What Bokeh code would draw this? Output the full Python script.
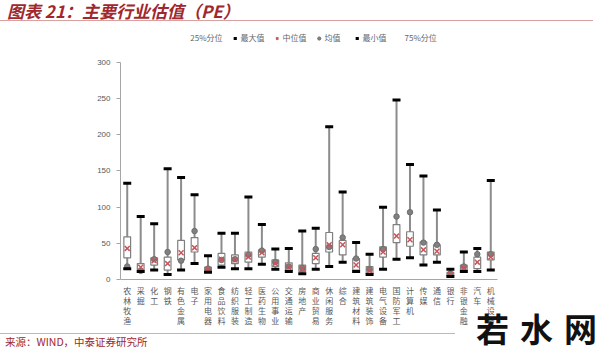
from bokeh.plotting import figure
from bokeh.models import (FactorRange, Range1d, Legend, LegendItem, Div,
                          FixedTicker, ColumnDataSource, CustomJSTickFormatter)
from bokeh.core.properties import value
from bokeh.layouts import column
from bokeh.embed import file_html
from bokeh.resources import INLINE

categories = ["农林牧渔", "采掘", "化工", "钢铁", "有色金属", "电子", "家用电器",
              "食品饮料", "纺织服装", "轻工制造", "医药生物", "公用事业", "交通运输",
              "房地产", "商业贸易", "休闲服务", "综合", "建筑材料", "建筑装饰",
              "电气设备", "国防军工", "计算机", "传媒", "通信", "银行", "非银金融",
              "汽车", "机械设备"]
max_pe = [133, 87, 77, 153, 141, 117, 33, 64, 64, 114, 76, 42, 43, 67, 71, 211,
          121, 51, 35, 100, 248, 159, 143, 96, 14, 38, 43, 137]
q3_pe = [59, 22, 30, 31, 54, 58, 17, 36, 34, 38, 41, 27, 23, 20, 36, 65,
         54, 29, 18, 45, 76, 66, 52, 48, 10, 20, 31, 38]
median_pe = [43, 17, 26, 22, 37, 44, 14, 28, 27, 31, 37, 22, 17, 15, 30, 48,
             48, 20, 12, 38, 60, 55, 41, 39, 7, 16, 24, 31]
mean_pe = [18, 12, 28, 38, 26, 67, 15, 27, 28, 34, 40, 24, 18, 16, 42, 45,
           58, 29, 14, 42, 87, 93, 51, 48, 8, 18, 35, 35]
q1_pe = [30, 13, 20, 13, 27, 38, 12, 20, 22, 24, 31, 18, 12, 11, 22, 38,
         34, 13, 8, 31, 51, 46, 34, 34, 5, 13, 15, 27]
min_pe = [15, 11, 13, 7, 13, 22, 10, 17, 15, 15, 21, 14, 11, 8, 14, 18,
          24, 11, 7, 14, 28, 30, 20, 24, 4, 11, 11, 13]
y_ticks = [0, 50, 100, 150, 200, 250, 300]

CJK = "Noto Sans CJK SC"
TOP_H, MAIN_H, LAB_H, BOT_H = 24, 260, 48, 20

p = figure(width=600, height=MAIN_H,
           x_range=FactorRange(factors=categories, range_padding=0),
           y_range=Range1d(0, 347.0),
           output_backend="svg", toolbar_location=None,
           min_border_left=120, min_border_right=103,
           min_border_top=4, min_border_bottom=5,
           background_fill_color="white", border_fill_color="white")
p.outline_line_color = None
p.xgrid.grid_line_color = None
p.ygrid.grid_line_color = None

src = ColumnDataSource(dict(cat=categories, mx=max_pe, q3=q3_pe, med=median_pe,
                            mean=mean_pe, q1=q1_pe, mn=min_pe))

p.segment(x0="cat", y0="mn", x1="cat", y1="mx", source=src,
          line_color="#8C8C8C", line_width=2)
p.vbar(x="cat", width=0.5, bottom="q1", top="q3", source=src,
       fill_color="white", line_color="#7F7F7F", line_width=1.2)
r_q1 = p.vbar(x="cat", width=0.5, bottom="q1", top="med", source=src,
              fill_alpha=0, line_alpha=0)
r_q3 = p.vbar(x="cat", width=0.5, bottom="med", top="q3", source=src,
              fill_alpha=0, line_alpha=0)
r_mean = p.scatter(x="cat", y="mean", source=src, marker="circle", size=5.5,
                   fill_color="#808080", line_color="#6E6E6E")
r_med = p.scatter(x="cat", y="med", source=src, marker="x", size=7,
                  line_color="#C8555A", line_width=1.5)
r_max = p.scatter(x="cat", y="mx", source=src, marker="dash", size=8,
                  line_color="black", line_width=3)
r_min = p.scatter(x="cat", y="mn", source=src, marker="dash", size=8,
                  line_color="black", line_width=3)

# y axis
p.yaxis.ticker = FixedTicker(ticks=y_ticks)
p.yaxis.bounds = (0, 300)
p.yaxis.minor_tick_line_color = None
p.yaxis.major_tick_out = 4
p.yaxis.major_tick_in = 0
p.yaxis.axis_line_color = "#A6A6A6"
p.yaxis.major_tick_line_color = "#A6A6A6"
p.yaxis.major_label_text_color = "#595959"
p.yaxis.major_label_text_font_size = "8px"
p.yaxis.major_label_standoff = 6

# x axis line only; the vertical category names are drawn in the strip below
p.xaxis.formatter = CustomJSTickFormatter(code="return '';")
p.xaxis.major_label_text_font_size = "1px"
p.xaxis.major_label_standoff = 0
p.xaxis.major_tick_out = 0
p.xaxis.major_tick_in = 0
p.xaxis.axis_line_color = "#A6A6A6"

legend = Legend(items=[
    LegendItem(label="25%分位", renderers=[r_q1]),
    LegendItem(label="最大值", renderers=[r_max]),
    LegendItem(label="中位值", renderers=[r_med]),
    LegendItem(label="均值", renderers=[r_mean]),
    LegendItem(label="最小值", renderers=[r_min]),
    LegendItem(label="75%分位", renderers=[r_q3]),
], orientation="horizontal", location="top_center")
legend.label_text_font = CJK
legend.label_text_font_size = "8px"
legend.label_text_color = "#666666"
legend.glyph_width = 8
legend.glyph_height = 8
legend.label_height = 8
legend.label_standoff = 2
legend.spacing = 8
legend.padding = 0
legend.margin = 4
legend.border_line_color = None
legend.background_fill_alpha = 0
p.add_layout(legend)

# strip with the category names written vertically, one character per row
n_rows = max(len(c) for c in categories)
lab_data = {"cat": categories}
for k in range(n_rows):
    lab_data["r%d" % k] = [c[k] if k < len(c) else "" for c in categories]
lab_src = ColumnDataSource(lab_data)

s = figure(width=600, height=LAB_H, x_range=p.x_range, y_range=Range1d(LAB_H, 0),
           output_backend="svg", toolbar_location=None,
           x_axis_location=None, y_axis_location=None,
           min_border_left=120, min_border_right=103,
           min_border_top=0, min_border_bottom=0,
           background_fill_color="white", border_fill_color="white")
s.outline_line_color = None
s.xgrid.grid_line_color = None
s.ygrid.grid_line_color = None
for k in range(n_rows):
    s.text(x="cat", y=6 + 10 * k, text="r%d" % k, source=lab_src,
           text_font=value(CJK), text_font_size="8px", text_color="#595959",
           text_align="center", text_baseline="middle")

title = Div(
    text=("<div style=\"font-family:'Noto Sans CJK SC';font-size:17px;"
          "font-weight:bold;font-style:italic;color:#A0282D;padding-left:7px;"
          "line-height:21px;height:21px;width:593px;white-space:nowrap;"
          "border-bottom:1px solid #D9A0A0;\">图表 21：主要行业估值（PE）</div>"),
    width=600, height=TOP_H, margin=0)

footer = Div(
    text=("<div style=\"position:relative;width:600px;height:20px;\">"
          "<div style=\"position:absolute;left:0;top:1px;width:455px;"
          "border-top:1px solid #E0A8A8;\"></div>"
          "<div style=\"position:absolute;left:5px;top:3px;font-family:'Noto Sans CJK SC';"
          "font-size:10.5px;line-height:14px;color:#A0282D;white-space:nowrap;\">"
          "来源：WIND，中泰证券研究所</div>"
          "<div style=\"position:absolute;left:476px;top:-22px;font-family:'Noto Sans CJK SC';"
          "font-size:33px;line-height:36px;font-weight:bold;color:#111;white-space:nowrap;"
          "letter-spacing:11px;\">若水网</div></div>"),
    width=600, height=BOT_H, margin=0)

layout = column(title, p, s, footer, spacing=0)
open("out.html", "w").write(file_html(layout, INLINE))
